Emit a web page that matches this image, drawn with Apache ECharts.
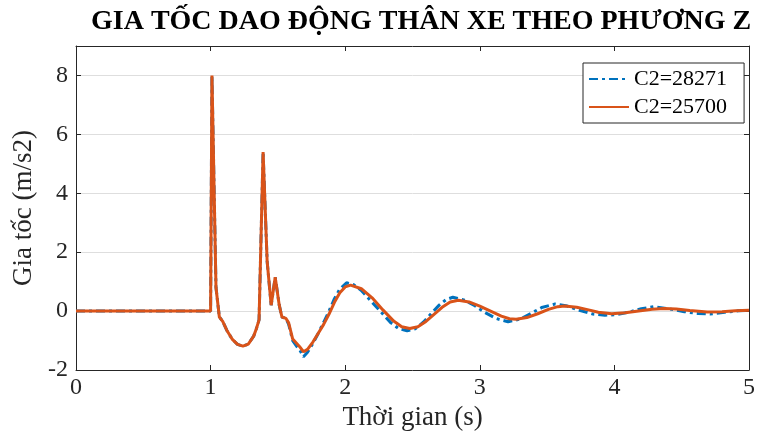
<!DOCTYPE html>
<html>
<head>
<meta charset="utf-8">
<script src="https://cdn.jsdelivr.net/npm/echarts@6/dist/echarts.min.js"></script>
<style>
  html, body { margin: 0; padding: 0; background: #fff; }
  #chart { width: 758px; height: 441px; }
</style>
</head>
<body>
<div id="chart"></div>
<script>
// C2=28271 (blue, dash-dot)
var tBlue = [0, 1.0, 1.01, 1.04, 1.065, 1.09, 1.12, 1.16, 1.2, 1.24, 1.28, 1.32, 1.34, 1.36, 1.39, 1.42, 1.45, 1.48, 1.51, 1.53, 1.56,
    1.58, 1.61, 1.64, 1.66, 1.69, 1.72, 1.76, 1.8, 1.84, 1.88, 1.92, 1.96, 2.01, 2.06, 2.12, 2.2, 2.27, 2.34, 2.4, 2.46,
    2.52, 2.58, 2.64, 2.7, 2.75, 2.8, 2.88, 2.96, 3.04, 3.12, 3.21, 3.3, 3.38, 3.46, 3.56, 3.65, 3.74, 3.84, 3.93,
    4.02, 4.12, 4.2, 4.29, 4.4, 4.52, 4.62, 4.71, 4.82, 4.92, 5.0];
var aBlue = [0, 0, 8.0, 0.8, -0.2, -0.35, -0.65, -0.95, -1.13, -1.19, -1.12, -0.85, -0.6, -0.3, 5.4, 1.7, 0.2, 1.15, 0.2, -0.2, -0.25,
    -0.45, -1.0, -1.2, -1.3, -1.55, -1.4, -1.1, -0.75, -0.38, 0.0, 0.42, 0.75, 0.96, 0.9, 0.7, 0.3, -0.05, -0.4, -0.6, -0.67,
    -0.6, -0.38, -0.08, 0.21, 0.39, 0.47, 0.38, 0.19, -0.05, -0.25, -0.36, -0.27, -0.08, 0.12, 0.24, 0.17, 0.03, -0.1, -0.14,
    -0.12, -0.02, 0.08, 0.15, 0.08, -0.02, -0.08, -0.1, -0.04, 0.01, 0.03];

// C2=25700 (orange, solid)
var tRed = [0, 1.0, 1.01, 1.04, 1.065, 1.09, 1.12, 1.16, 1.2, 1.24, 1.28, 1.32, 1.34, 1.36, 1.39, 1.42, 1.45, 1.48, 1.51, 1.53, 1.56,
    1.58, 1.61, 1.64, 1.66, 1.69, 1.72, 1.76, 1.8, 1.84, 1.88, 1.92, 1.96, 2.0, 2.04, 2.12, 2.2, 2.28, 2.36, 2.42, 2.48,
    2.54, 2.6, 2.66, 2.72, 2.78, 2.84, 2.92, 3.0, 3.08, 3.16, 3.22, 3.27, 3.35, 3.43, 3.51, 3.58, 3.63, 3.72, 3.8, 3.88, 3.98,
    4.08, 4.18, 4.28, 4.37, 4.46, 4.56, 4.69, 4.8, 4.9, 5.0];
var aRed = [0, 0, 8.0, 0.8, -0.2, -0.35, -0.65, -0.95, -1.13, -1.19, -1.12, -0.85, -0.6, -0.3, 5.4, 1.7, 0.2, 1.15, 0.2, -0.2, -0.25,
    -0.4, -0.95, -1.1, -1.2, -1.38, -1.3, -1.05, -0.75, -0.45, -0.1, 0.3, 0.62, 0.82, 0.88, 0.76, 0.45, 0.04, -0.34, -0.53, -0.59,
    -0.53, -0.35, -0.11, 0.13, 0.31, 0.37, 0.31, 0.17, 0.0, -0.17, -0.26, -0.28, -0.22, -0.09, 0.06, 0.15, 0.17, 0.13, 0.05, -0.04, -0.09,
    -0.06, 0.0, 0.06, 0.09, 0.07, 0.02, -0.03, -0.02, 0.01, 0.03];

var xTicks = [0, 1, 2, 3, 4, 5];
var yTicks = [-2, 0, 2, 4, 6, 8];

function pairs(t, a) {
    var out = [];
    for (var i = 0; i < t.length; i++) out.push([t[i], a[i]]);
    return out;
}

var font = 'Liberation Serif';
var axisColor = '#262626';
var myChart = echarts.init(document.getElementById('chart'));

var option = {
    animation: false,
    title: {
        text: 'GIA TỐC DAO ĐỘNG THÂN XE THEO PHƯƠNG Z',
        left: 86,
        top: 3,
        textStyle: { fontFamily: font, fontWeight: 'bold', fontSize: 28, color: '#000' }
    },
    grid: { left: 76, right: 6, top: 46, bottom: 71 },
    legend: {
        orient: 'vertical',
        left: 583,
        top: 63,
        padding: [5, 17, 5, 5],
        itemGap: 6,
        itemWidth: 40,
        itemHeight: 10,
        backgroundColor: '#fff',
        borderColor: axisColor,
        borderWidth: 1,
        itemStyle: { opacity: 0 },
        textStyle: { fontFamily: font, fontSize: 22, color: '#000' },
        data: ['C2=28271', 'C2=25700']
    },
    xAxis: [{
        type: 'value',
        min: 0, max: 5, interval: 1,
        name: 'Thời gian (s)',
        nameLocation: 'middle',
        nameGap: 33,
        nameTextStyle: { fontFamily: font, fontSize: 27, color: axisColor },
        axisLine: { onZero: false, lineStyle: { color: axisColor, width: 1 } },
        axisTick: { inside: true, length: 5, lineStyle: { color: axisColor } },
        axisLabel: {
            fontFamily: font, fontSize: 24, color: axisColor, margin: 6,
            formatter: function (v) { return xTicks.indexOf(v) >= 0 ? String(v) : ''; }
        },
        splitLine: { show: false }
    }, {
        type: 'value', position: 'top',
        min: 0, max: 5, interval: 1,
        axisLine: { onZero: false, lineStyle: { color: axisColor, width: 1 } },
        axisTick: { inside: true, length: 5, lineStyle: { color: axisColor } },
        axisLabel: { show: false },
        splitLine: { show: false }
    }],
    yAxis: [{
        type: 'value',
        min: -2, max: 9, interval: 2,
        name: 'Gia tốc (m/s2)',
        nameLocation: 'middle',
        nameGap: 35,
        nameTextStyle: { fontFamily: font, fontSize: 27, color: axisColor },
        axisLine: { show: true, onZero: false, lineStyle: { color: axisColor, width: 1 } },
        axisTick: { inside: true, length: 5, lineStyle: { color: axisColor } },
        axisLabel: {
            fontFamily: font, fontSize: 24, color: axisColor, margin: 8, showMaxLabel: false,
            formatter: function (v) { return yTicks.indexOf(v) >= 0 ? String(v) : ''; }
        },
        splitLine: { show: true, lineStyle: { color: '#dedede', width: 1 } }
    }, {
        type: 'value', position: 'right',
        min: -2, max: 9, interval: 2,
        axisLine: { show: true, onZero: false, lineStyle: { color: axisColor, width: 1 } },
        axisTick: { inside: true, length: 5, lineStyle: { color: axisColor } },
        axisLabel: { show: false },
        splitLine: { show: false }
    }],
    series: [{
        name: 'C2=28271',
        type: 'line',
        symbol: 'none',
        data: pairs(tBlue, aBlue),
        lineStyle: { color: '#0072BD', width: 3, type: [9, 4, 3, 4] },
        itemStyle: { color: '#0072BD' }
    }, {
        name: 'C2=25700',
        type: 'line',
        symbol: 'none',
        data: pairs(tRed, aRed),
        lineStyle: { color: '#D95319', width: 3 },
        itemStyle: { color: '#D95319' }
    }]
};

myChart.setOption(option);
window.addEventListener('resize', function () {
    myChart.resize();
});
</script>
</body>
</html>
